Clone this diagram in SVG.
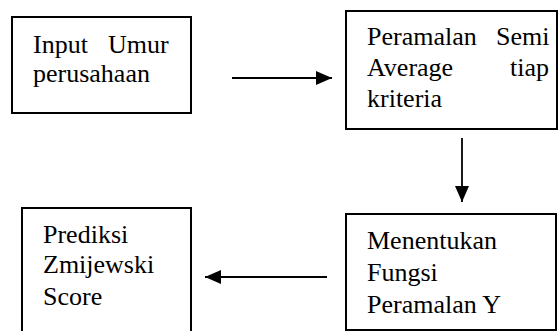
<svg xmlns="http://www.w3.org/2000/svg" width="558" height="331" viewBox="0 0 558 331">
<style>
.box{fill:#fff;stroke:#000;stroke-width:2}
.t{font-family:"Liberation Serif","Times New Roman",serif;font-size:26px;fill:#000}
.c{stroke:#000;stroke-width:1.8;fill:none}
</style>
<defs>
<marker id="ah" markerWidth="16" markerHeight="14" refX="16" refY="7" orient="auto" markerUnits="userSpaceOnUse">
<path d="M0,0 L16,7 L0,14 Z" fill="#000"/>
</marker>
</defs>
<rect width="558" height="331" fill="#fff"/>
<g id="node-input">
<rect class="box" x="12" y="17" width="179" height="96"/>
<text class="t"><tspan x="33" y="53">Input</tspan><tspan x="108" y="53">Umur</tspan><tspan x="33" y="82">perusahaan</tspan></text>
</g>
<g id="node-peramalan">
<rect class="box" x="346" y="11" width="211" height="118"/>
<text class="t"><tspan x="367" y="45">Peramalan</tspan><tspan x="496" y="45">Semi</tspan><tspan x="367" y="76">Average</tspan><tspan x="510" y="76">tiap</tspan><tspan x="367" y="107">kriteria</tspan></text>
</g>
<g id="node-fungsi">
<rect class="box" x="346" y="214" width="210" height="116"/>
<text class="t"><tspan x="367" y="249">Menentukan</tspan><tspan x="367" y="281">Fungsi</tspan><tspan x="367" y="313">Peramalan Y</tspan></text>
</g>
<g id="node-prediksi">
<rect class="box" x="22" y="208" width="169" height="130"/>
<text class="t"><tspan x="43" y="243">Prediksi</tspan><tspan x="43" y="273">Zmijewski</tspan><tspan x="43" y="305">Score</tspan></text>
</g>
<g id="connectors">
<line class="c" x1="232" y1="78" x2="332" y2="78" marker-end="url(#ah)"/>
<line class="c" x1="462" y1="138" x2="462" y2="202" marker-end="url(#ah)"/>
<line class="c" x1="327" y1="277" x2="205" y2="277" marker-end="url(#ah)"/>
</g>
</svg>
